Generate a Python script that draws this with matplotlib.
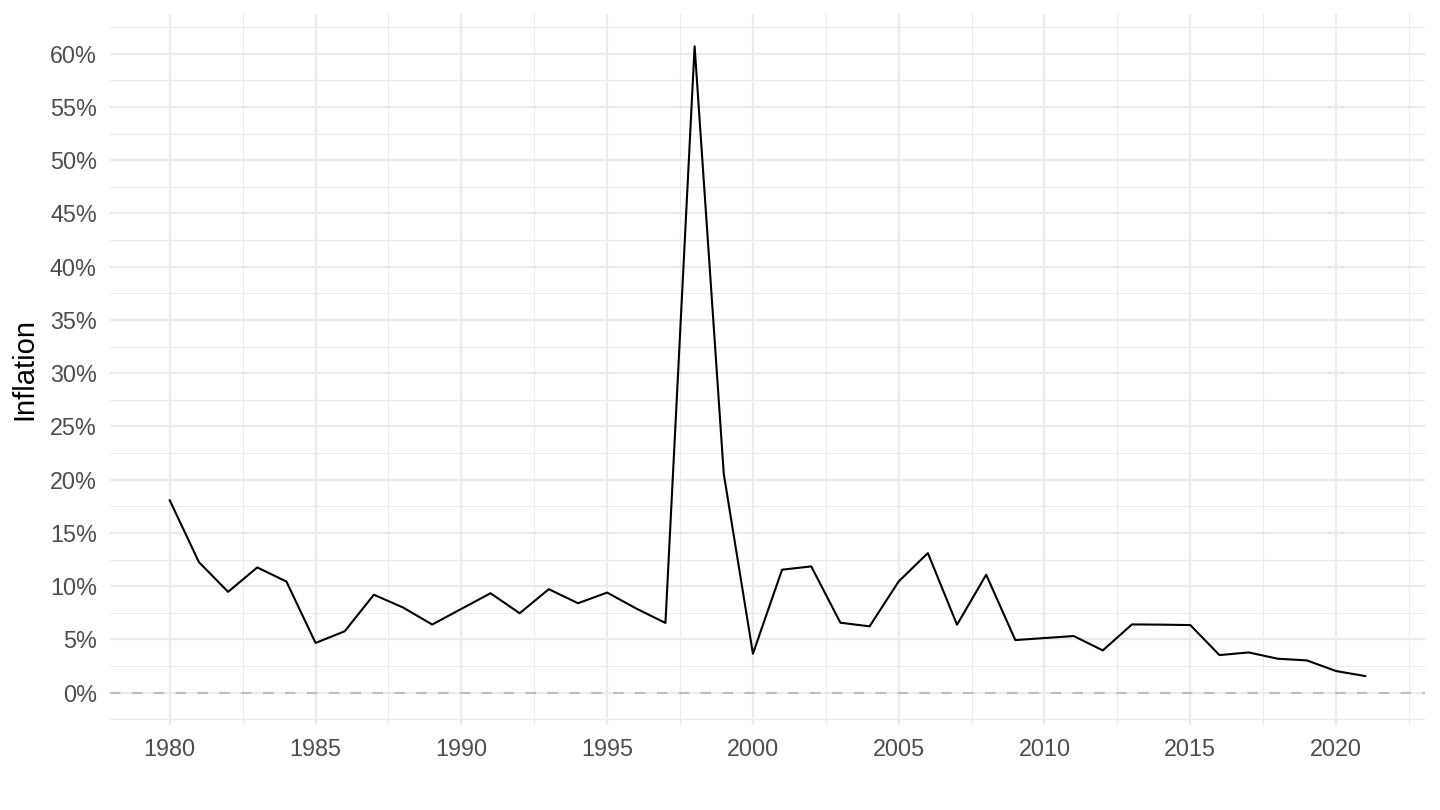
import matplotlib
matplotlib.use("Agg")
import matplotlib.pyplot as plt
from matplotlib.ticker import FixedLocator, FuncFormatter

years = list(range(1980, 2022))
inflation = [18.06, 12.26, 9.47, 11.76, 10.44, 4.67, 5.77, 9.2, 8.0, 6.4,
             7.87, 9.34, 7.46, 9.72, 8.4, 9.4, 7.9, 6.55, 60.7, 20.56,
             3.66, 11.55, 11.86, 6.57, 6.23, 10.45, 13.11, 6.38, 11.08, 4.94,
             5.13, 5.32, 3.97, 6.41, 6.39, 6.35, 3.53, 3.78, 3.19, 3.03,
             2.03, 1.56]
x_ticks = [1980, 1985, 1990, 1995, 2000, 2005, 2010, 2015, 2020]
y_ticks = [0, 5, 10, 15, 20, 25, 30, 35, 40, 45, 50, 55, 60]

plt.rcParams['font.family'] = ['Liberation Sans', 'DejaVu Sans']

fig = plt.figure(figsize=(14.4, 8.1), dpi=100)
ax = fig.add_axes([110/1440, 1 - 725/810, (1425-110)/1440, (725-14)/810])

ax.axhline(0, color='#BEBEBE', lw=1.5, dashes=(5, 5.5), zorder=2)
ax.plot(years, inflation, color='black', lw=1.5, zorder=3)

ax.set_xlim(1977.95, 2023.05)
ax.set_ylim(-3.035, 63.735)

ax.xaxis.set_major_locator(FixedLocator(x_ticks))
ax.xaxis.set_minor_locator(FixedLocator([1977.5 + 5*i for i in range(10)]))
ax.yaxis.set_major_locator(FixedLocator(y_ticks))
ax.yaxis.set_minor_locator(FixedLocator([-2.5 + 5*i for i in range(14)]))
ax.yaxis.set_major_formatter(FuncFormatter(lambda v, p: f"{v:.0f}%"))

ax.grid(which='major', color='#EBEBEB', lw=1.6, zorder=0)
ax.grid(which='minor', color='#EBEBEB', lw=0.8, zorder=0)
ax.set_axisbelow(True)
for s in ax.spines.values():
    s.set_visible(False)
ax.tick_params(which='both', length=0)
ax.tick_params(axis='both', labelsize=16.8, labelcolor='#4D4D4D')
ax.tick_params(axis='x', pad=9)
ax.tick_params(axis='y', pad=9.5)
ax.set_ylabel('Inflation', fontsize=21, color='black', labelpad=8)

fig.savefig('out.png', dpi=100, facecolor='white')
